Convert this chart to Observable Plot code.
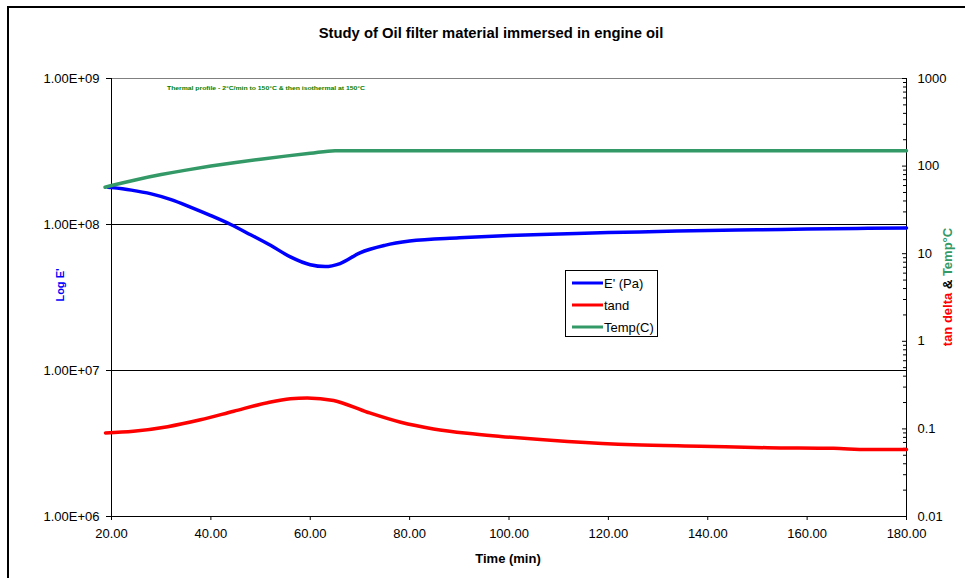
<!DOCTYPE html>
<html>
<head>
<meta charset="utf-8">
<script src="https://cdn.jsdelivr.net/npm/d3@7"></script>
<script src="https://cdn.jsdelivr.net/npm/@observablehq/plot@0.6"></script>
<style>
  html, body { margin: 0; padding: 0; background: #fff; }
  #chart { position: relative; width: 965px; height: 578px; overflow: hidden; }
</style>
</head>
<body>
<div id="chart"></div>
<script>
// ---- Data ----
const titleText = "Study of Oil filter material immersed in engine oil";
const xLabel = "Time (min)";
const leftLabel = "Log E'";
const noteText = "Thermal profile - 2°C/min to 150°C & then isothermal at 150°C";
const seriesNames = ["E' (Pa)", "tand", "Temp(C)"];
const seriesColors = ["#0000ff", "#ff0000", "#339966"];

const xTicks = [20, 40, 60, 80, 100, 120, 140, 160, 180];
const leftTicks = [1e6, 1e7, 1e8, 1e9];
const leftTickLabels = ["1.00E+06", "1.00E+07", "1.00E+08", "1.00E+09"];
const rightTicks = [0.01, 0.1, 1, 10, 100, 1000];
const rightTickLabels = ["0.01", "0.1", "1", "10", "100", "1000"];

const timeE = [19.3, 20, 24, 28, 32, 36, 40, 44, 48, 52, 56, 60, 63, 66, 70, 75, 80, 90, 100, 110, 120, 130, 140, 150, 160, 170, 180];
const storageModulus = [1.80e8, 1.79e8, 1.72e8, 1.62e8, 1.48e8, 1.31e8, 1.15e8, 1.0e8, 8.5e7, 7.2e7, 6.0e7, 5.3e7, 5.15e7, 5.4e7, 6.4e7, 7.2e7, 7.7e7, 8.1e7, 8.4e7, 8.6e7, 8.8e7, 8.95e7, 9.1e7, 9.2e7, 9.3e7, 9.4e7, 9.45e7];

const timeTan = [18.8, 24.4, 31.3, 37.9, 44.6, 51.4, 56.0, 59.4, 64.7, 71.5, 78.2, 84.8, 91.6, 98.3, 111.8, 125.1, 138.5, 152.0, 165.3, 172.1, 180];
const tanDelta = [0.090, 0.094, 0.106, 0.127, 0.159, 0.199, 0.221, 0.226, 0.211, 0.155, 0.119, 0.100, 0.089, 0.082, 0.072, 0.066, 0.0635, 0.061, 0.060, 0.058, 0.058];

const timeTemp = [18.7, 20, 25, 30, 35, 40, 45, 50, 55, 60, 65, 100, 140, 180];
const temperature = [57.4, 60, 70, 80, 90, 100, 110, 120, 130, 140, 150, 150, 150, 150];

// ---- Secondary axis mapping: right log domain [0.01, 1000] onto left [1e6, 1e9] ----
const toLeft = v => Math.pow(10, 6 + (Math.log10(v) + 2) * 0.6);
const rightMapped = rightTicks.map(toLeft);
const leftLabelFor = d => {
  const i = leftTicks.findIndex(v => Math.abs(v / d - 1) < 1e-6);
  return i >= 0 ? leftTickLabels[i] : "";
};

const eRows = timeE.map((t, i) => ({t, v: storageModulus[i]}));
const tanRows = timeTan.map((t, i) => ({t, v: tanDelta[i]}));
const tempRows = timeTemp.map((t, i) => ({t, v: temperature[i]}));
const rightRows = rightTicks.map((v, i) => ({v, label: rightTickLabels[i]}));

const minorRight = [];
for (let d = -2; d <= 2; d++) for (let m = 2; m <= 9; m++) minorRight.push(m * Math.pow(10, d));

const font = "'Liberation Sans', Arial, sans-serif";

const plot = Plot.plot({
  width: 965,
  height: 578,
  marginLeft: 111,
  marginRight: 59,
  marginTop: 78,
  marginBottom: 62,
  style: {fontFamily: font, fontSize: "13px", background: "white", color: "black", overflow: "visible"},
  x: {domain: [20, 180]},
  y: {type: "log", domain: [1e6, 1e9]},
  marks: [
    Plot.ruleY([1e9], {stroke: "#808080", strokeWidth: 1}),
    Plot.ruleY([1e7, 1e8], {stroke: "black", strokeWidth: 1}),
    Plot.ruleY([1e6], {stroke: "black", strokeWidth: 1}),
    Plot.ruleX([20, 180], {stroke: "black", strokeWidth: 1}),
    Plot.axisX(xTicks, {anchor: "bottom", tickSize: 4, tickPadding: 8, tickFormat: d => d.toFixed(2), label: null, fontSize: 13, stroke: "black"}),
    Plot.axisY(leftTicks, {anchor: "left", tickSize: 5, tickPadding: 7, tickFormat: leftLabelFor, label: null, fontSize: 13}),
    Plot.text(rightRows, {y: d => toLeft(d.v), text: "label", frameAnchor: "right", textAnchor: "start", dx: 11, fontSize: 13, fill: "black"}),
    Plot.axisY(rightMapped, {anchor: "right", tickSize: 5, insetRight: 5, text: null, label: null}),
    Plot.axisY(minorRight.map(toLeft), {anchor: "right", tickSize: 4, insetRight: 4, text: null, label: null}),
    Plot.line(eRows, {x: "t", y: "v", stroke: seriesColors[0], strokeWidth: 3.5, curve: "monotone-x"}),
    Plot.line(tanRows, {x: "t", y: d => toLeft(d.v), stroke: seriesColors[1], strokeWidth: 3.5, curve: "monotone-x"}),
    Plot.line(tempRows, {x: "t", y: d => toLeft(d.v), stroke: seriesColors[2], strokeWidth: 3.5, curve: "monotone-x"})
  ]
});

document.getElementById("chart").appendChild(plot);

// ---- Decorations: frame, titles, labels, legend ----
const svg = d3.select(plot);
svg.append("path").attr("d", "M8,600 L8,7 L1000,7").attr("fill", "none").attr("stroke", "black").attr("stroke-width", 2);

svg.append("text").attr("x", 491).attr("y", 38).attr("text-anchor", "middle")
  .attr("font-family", font).attr("font-size", 14.8).attr("font-weight", "bold").text(titleText);

svg.append("text").attr("x", 508).attr("y", 563).attr("text-anchor", "middle")
  .attr("font-family", font).attr("font-size", 13).attr("font-weight", "bold").text(xLabel);

svg.append("text").attr("transform", "translate(64,285) rotate(-90)").attr("text-anchor", "middle")
  .attr("font-family", font).attr("font-size", 11).attr("font-weight", "bold").attr("fill", "#0000ff").text(leftLabel);

const rl = svg.append("text").attr("transform", "translate(952,287) rotate(-90)").attr("text-anchor", "middle")
  .attr("font-family", font).attr("font-size", 13).attr("font-weight", "bold");
rl.append("tspan").attr("fill", "#ff0000").text("tan delta");
rl.append("tspan").attr("fill", "black").text(" & ");
rl.append("tspan").attr("fill", "#339966").text("Temp°C");

svg.append("text").attr("x", 167).attr("y", 90).attr("text-anchor", "start")
  .attr("font-family", font).attr("font-size", 6).attr("font-weight", "bold").attr("fill", "#008000")
  .attr("textLength", 198).attr("lengthAdjust", "spacingAndGlyphs").text(noteText);

const lg = svg.append("g");
lg.append("rect").attr("x", 565.5).attr("y", 270.5).attr("width", 92).attr("height", 66)
  .attr("fill", "white").attr("stroke", "black").attr("stroke-width", 1);
seriesNames.forEach((name, i) => {
  const y = 283 + i * 22;
  lg.append("line").attr("x1", 572).attr("x2", 603).attr("y1", y).attr("y2", y)
    .attr("stroke", seriesColors[i]).attr("stroke-width", 3);
  lg.append("text").attr("x", 604).attr("y", y + 5).attr("text-anchor", "start")
    .attr("font-family", font).attr("font-size", 13).text(name);
});
</script>
</body>
</html>
